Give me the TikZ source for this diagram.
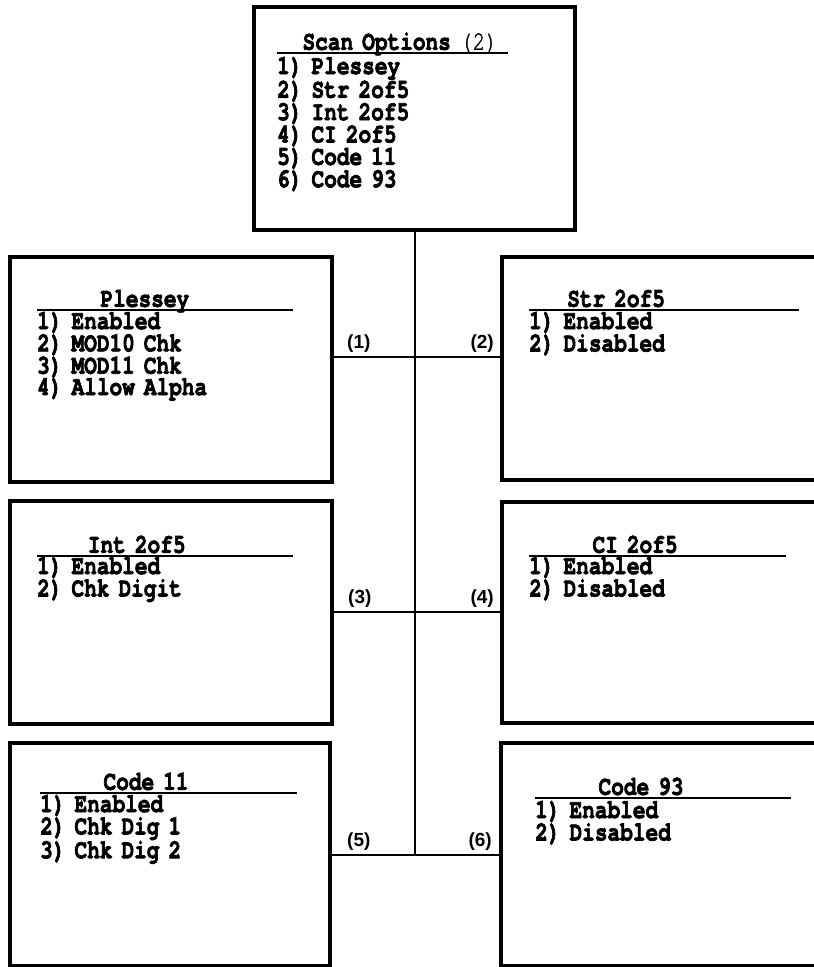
\documentclass[tikz,border=0pt]{standalone}
\usepackage{fontspec}
\usetikzlibrary{positioning}
\newfontfamily\menufont{texgyrecursor}[Extension=.otf, UprightFont=*-regular,
	BoldFont=*-bold, UprightFeatures={FakeBold=1}, BoldFeatures={FakeBold=2.5}, FakeStretch=0.782]
\newfontfamily\tagfont{Liberation Sans}
\newlength\charw
\setlength\charw{12.67pt}
\newcommand\menupad[1]{\hspace*{#1\charw}}

\begin{document}
\begin{tikzpicture}[x=1pt,y=-1pt,
	menubox/.style={draw, line width=4pt, anchor=north west, inner sep=0pt, outer sep=0pt},
	menuhead/.style={anchor=south west, inner sep=0pt, text depth=3pt, align=left,
		font={\menufont\bfseries\fontsize{27pt}{21.3pt}\selectfont}},
	menulist/.style={anchor=base west, inner sep=0pt, align=left, text width=260pt,
		font={\menufont\bfseries\fontsize{27pt}{21.3pt}\selectfont}},
	headrule/.style={line width=2.5pt},
	link/.style={line width=2pt},
	tag/.style={inner sep=0pt, font={\tagfont\bfseries\fontsize{19pt}{19pt}\selectfont}}]
	
	\useasboundingbox (0,0) rectangle (814,967);
	\clip (0,0) rectangle (814,967);
	
	\node[menubox, minimum width=321pt, minimum height=223pt] (scan) at (254,7) {};
	\node[menubox, minimum width=322pt, minimum height=225pt] (plessey) at (10,257) {};
	\node[menubox, minimum width=330pt, minimum height=223pt] (str) at (502,257) {};
	\node[menubox, minimum width=322pt, minimum height=223pt] (int) at (10,501) {};
	\node[menubox, minimum width=330pt, minimum height=221pt] (ci) at (502,502) {};
	\node[menubox, minimum width=320pt, minimum height=223pt] (code11) at (10,743) {};
	\node[menubox, minimum width=330pt, minimum height=223pt] (code93) at (501,743) {};
	
	\node[menuhead, text width=231pt] (scan-h) at (277,53) {\menupad{2}Scan Options {\mdseries(2)}};
	\node[menuhead, text width=256pt] (plessey-h) at (37,310) {\menupad{5}Plessey};
	\node[menuhead, text width=270pt] (str-h) at (529,310) {\menupad{3}Str 2of5};
	\node[menuhead, text width=256pt] (int-h) at (37,556) {\menupad{4}Int 2of5};
	\node[menuhead, text width=257pt] (ci-h) at (529,556) {\menupad{5}CI 2of5};
	\node[menuhead, text width=257pt] (code11-h) at (40,793) {\menupad{5}Code 11};
	\node[menuhead, text width=256pt] (code93-h) at (535,798) {\menupad{5}Code 93};
	
	\draw[headrule] (scan-h.south west) -- (scan-h.south east);
	\draw[headrule] (plessey-h.south west) -- (plessey-h.south east);
	\draw[headrule] (str-h.south west) -- (str-h.south east);
	\draw[headrule] (int-h.south west) -- (int-h.south east);
	\draw[headrule] (ci-h.south west) -- (ci-h.south east);
	\draw[headrule] (code11-h.south west) -- (code11-h.south east);
	\draw[headrule] (code93-h.south west) -- (code93-h.south east);
	
	\node[menulist] (scan-l) at (277,74) {1) Plessey\\2) Str 2of5\\3) Int 2of5\\4) CI 2of5\\5) Code 11\\6) Code 93};
	\node[menulist] (plessey-l) at (37,329) {1) Enabled\\2) MOD10 Chk\\3) MOD11 Chk\\4) Allow Alpha};
	\node[menulist] (str-l) at (529,329) {1) Enabled\\2) Disabled};
	\node[menulist] (int-l) at (37,574) {1) Enabled\\2) Chk Digit};
	\node[menulist] (ci-l) at (529,574) {1) Enabled\\2) Disabled};
	\node[menulist] (code11-l) at (40,812) {1) Enabled\\2) Chk Dig 1\\3) Chk Dig 2};
	\node[menulist] (code93-l) at (535,818) {1) Enabled\\2) Disabled};
	
	\coordinate (j1) at (scan.south |- 0,357);
	\coordinate (j2) at (scan.south |- 0,612);
	\coordinate (j3) at (scan.south |- 0,855);
	\coordinate (w1) at (plessey.east |- j1);
	\coordinate (e1) at (str.west |- j1);
	\coordinate (w2) at (int.east |- j2);
	\coordinate (e2) at (ci.west |- j2);
	\coordinate (w3) at (code11.east |- j3);
	\coordinate (e3) at (code93.west |- j3);
	
	\draw[link] (scan.south) -- (j3);
	\draw[link] (w1) -- (e1);
	\draw[link] (w2) -- (e2);
	\draw[link] (w3) -- (e3);
	
	\node[tag, above right=4pt and 15pt of w1] (t1) {(1)};
	\node[tag, above left=4pt and 8pt of e1] (t2) {(2)};
	\node[tag, above right=4pt and 16pt of w2] (t3) {(3)};
	\node[tag, above left=4pt and 8pt of e2] (t4) {(4)};
	\node[tag, above right=4pt and 17pt of w3] (t5) {(5)};
	\node[tag, above left=4pt and 9pt of e3] (t6) {(6)};
\end{tikzpicture}
\end{document}
